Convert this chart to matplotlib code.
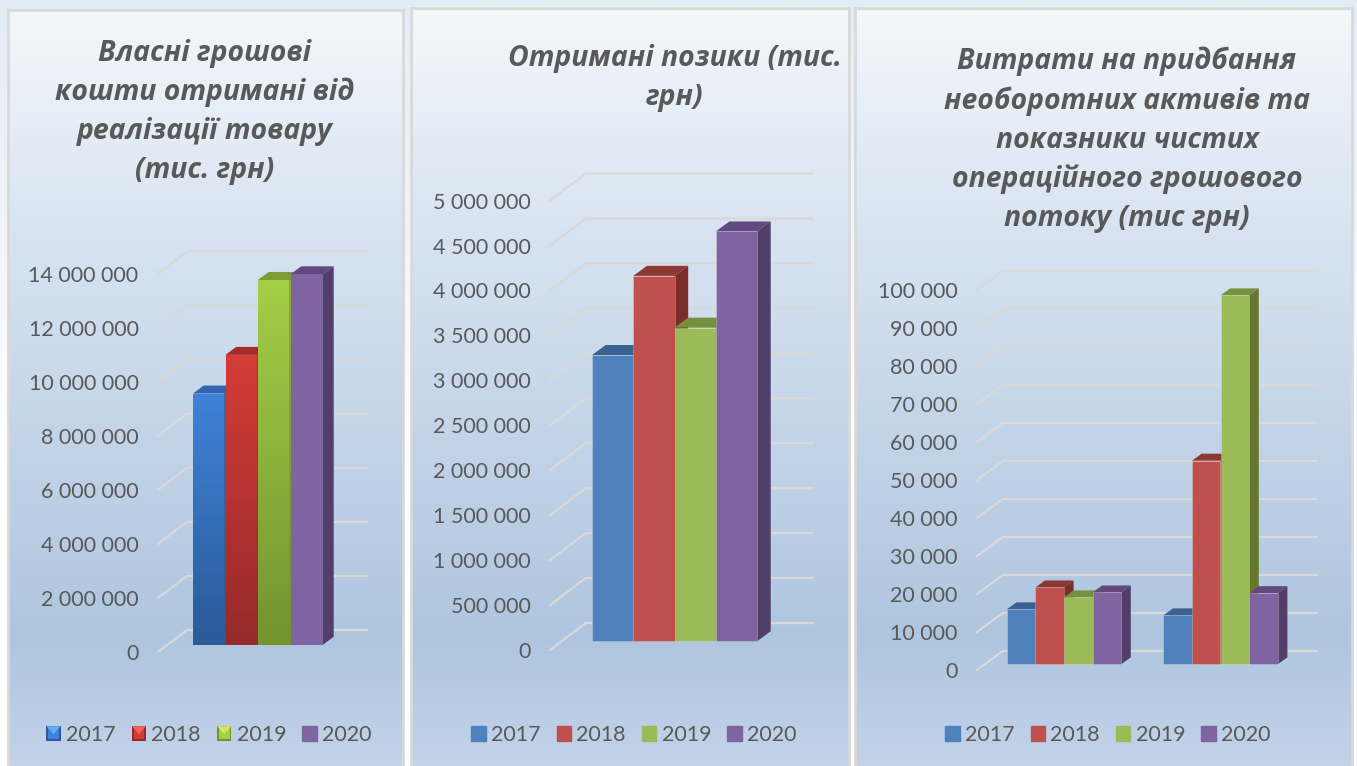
import numpy as np
import matplotlib
matplotlib.use("Agg")
import matplotlib.pyplot as plt
from matplotlib.colors import LinearSegmentedColormap
from matplotlib.legend_handler import HandlerBase
from matplotlib.patches import Patch, Polygon, Rectangle
from matplotlib.ticker import FuncFormatter

W, H = 1357, 766

# ---- data
years = ["2017", "2018", "2019", "2020"]

vlasni = [[9290000], [10720000], [13490000], [13700000]]
pozyky = [[3185000], [4066000], [3490000], [4560000]]
vytraty = [[14450, 12870], [20220, 53580], [17600, 97080], [18900, 18730]]

ticks_1 = [0, 2000000, 4000000, 6000000, 8000000, 10000000, 12000000, 14000000]
ticks_2 = [0, 500000, 1000000, 1500000, 2000000, 2500000, 3000000, 3500000, 4000000, 4500000, 5000000]
ticks_3 = [0, 10000, 20000, 30000, 40000, 50000, 60000, 70000, 80000, 90000, 100000]

title_1 = "Власні грошові\nкошти отримані від\nреалізації товару\n(тис. грн)"
title_2 = "Отримані позики (тис.\nгрн)"
title_3 = "Витрати на придбання\nнеоборотних активів та\nпоказники чистих\nопераційного грошового\nпотоку (тис грн)"

# ---- styles
front = ["#4F81BD", "#C0504D", "#9BBB59", "#8064A2"]
top_c = ["#3A6190", "#8E3835", "#75903F", "#62497F"]
side_c = ["#2F4F78", "#7B2D2B", "#66782F", "#513E69"]
# gradient of the glossy bars in the first chart (top, bottom); None = flat
gloss = [("#3F82D8", "#2A5A98"), ("#D33C37", "#962A2A"), ("#A3CE46", "#749430"), None]
top_gloss = ["#2F66AE", "#A52C2B", "#7E9C36", "#62497F"]
side_gloss = ["#2A5A98", "#8A2626", "#6A8A2A", "#513E69"]

text_c = "#595959"
grid_c = "#D9D9D9"
TITLE_FONT = ["Open Sans", "DejaVu Sans"]
LABEL_FONT = ["Lato", "Open Sans", "DejaVu Sans"]


def rect_px(x0, y0, x1, y1):
    return [x0 / W, 1 - y1 / H, (x1 - x0) / W, (y1 - y0) / H]


class HandlerBevel(HandlerBase):
    # petit carré biseauté de la légende du premier graphique
    def __init__(self, light, mid, dark):
        super().__init__()
        self.light, self.mid, self.dark = light, mid, dark

    def create_artists(self, legend, orig, xd, yd, w, h, fontsize, trans):
        base = Rectangle((-xd, -yd), w, h, fc=self.dark, ec="none", transform=trans)
        inner = Rectangle((-xd + w * 0.12, -yd + h * 0.12), w * 0.76, h * 0.76,
                          fc=self.mid, ec="none", transform=trans)
        tri = Polygon([(-xd, -yd + h), (-xd + w, -yd + h), (-xd + w / 2, -yd + h * 0.45)],
                      fc=self.light, ec="none", transform=trans)
        return [base, inner, tri]


def draw_panel(fig, box, title, title_xy, values, ticks, group_left, bar_w, geom, legend_xy, glossy=False):
    x0, y0, x1, y1 = box
    tip_x, back_x, right_x = geom["tip_x"], geom["back_x"], geom["right_x"]
    y_zero, y_max = geom["y_zero"], geom["y_max"]
    base_y, dep_x, dep_y = geom["base_y"], geom["dep_x"], geom["dep_y"]
    tick_top = ticks[-1]
    scale = (y_zero - y_max) / tick_top  # px par unité

    # fond dégradé du panneau
    bg = fig.add_axes(rect_px(x0, y0, x1, y1), zorder=1)
    cmap = LinearSegmentedColormap.from_list("fond", [(0, "#F3F7FB"), (0.30, "#D7E3F1"),
                                                      (0.82, "#AFC5DF"), (1, "#C4D4E9")])
    bg.imshow(np.linspace(0, 1, 256).reshape(-1, 1), aspect="auto", cmap=cmap, extent=(0, 1, 0, 1))
    bg.set_xticks([])
    bg.set_yticks([])
    for name, spine in bg.spines.items():
        spine.set_color("#D9D9D9")
        spine.set_linewidth(2)
    bg.spines["bottom"].set_visible(False)

    # plan du fond, grille et graduations
    wall = fig.add_axes(rect_px(tip_x, y_max, right_x, y_zero), zorder=2)
    wall.patch.set_alpha(0)
    wall.set_xlim(0, right_x - tip_x)
    wall.set_ylim(0, tick_top)
    depth_x = back_x - tip_x
    depth_y = geom["wall_dy"] / scale
    for t in ticks:
        wall.plot([0, depth_x, right_x - tip_x], [t, t + depth_y, t + depth_y],
                  color=grid_c, lw=1.6, clip_on=False, solid_joinstyle="miter")
    for s in wall.spines.values():
        s.set_visible(False)
    wall.set_xticks([])
    wall.set_yticks(ticks)
    wall.yaxis.set_major_formatter(FuncFormatter(lambda v, p: f"{int(v):,}".replace(",", " ")))
    wall.tick_params(axis="y", length=0, pad=geom["pad"], labelsize=15.5, labelcolor=text_c)
    for lab in wall.get_yticklabels():
        lab.set_fontfamily(LABEL_FONT)

    # barres
    ax = fig.add_axes(rect_px(tip_x, y_max, right_x, base_y), zorder=3)
    ax.patch.set_alpha(0)
    ax.set_xlim(tip_x, right_x)
    ax.set_ylim(0, (base_y - y_max) / scale)
    ax.axis("off")
    dy = dep_y / scale
    z = 3
    for g, left in enumerate(group_left):
        for j in range(len(years)):
            v = values[j][g]
            xb = left + j * bar_w
            if glossy:
                tc, sc = top_gloss[j], side_gloss[j]
            else:
                tc, sc = top_c[j], side_c[j]
            ax.fill([xb, xb + dep_x, xb + bar_w + dep_x, xb + bar_w],
                    [v, v + dy, v + dy, v], color=tc, lw=0, zorder=z, clip_on=False)
            ax.fill([xb + bar_w, xb + bar_w + dep_x, xb + bar_w + dep_x, xb + bar_w],
                    [0, dy, v + dy, v], color=sc, lw=0, zorder=z, clip_on=False)
            bar = ax.bar(xb, v, width=bar_w, align="edge", color=front[j],
                         edgecolor="#FFFFFF40" if not glossy else "none", lw=0.6, zorder=z + 1)[0]
            bar.set_clip_on(False)
            if glossy and gloss[j] is not None:
                cm = LinearSegmentedColormap.from_list("b", [gloss[j][1], gloss[j][0]])
                im = ax.imshow(np.linspace(1, 0, 64).reshape(-1, 1), aspect="auto", cmap=cm,
                               extent=(xb, xb + bar_w, 0, v), zorder=z + 2, clip_on=True)
                im.set_clip_path(bar)
                ax.plot([xb + bar_w - 0.5] * 2, [0, v], color=gloss[j][1], lw=1.2, zorder=z + 3, alpha=0.7)
            z += 4
    ax.set_xlim(tip_x, right_x)
    ax.set_ylim(0, (base_y - y_max) / scale)

    # légende
    handles = [Patch(color=c) for c in front]
    handler_map = {}
    if glossy:
        lights = ["#63AEF0", "#F06560", "#CFEA60"]
        for h, g, l in zip(handles[:3], gloss[:3], lights):
            handler_map[h] = HandlerBevel(l, g[0], g[1])
    leg = ax.legend(handles, years, ncols=4, frameon=False, loc="center",
                    bbox_to_anchor=(legend_xy[0] / W, 1 - legend_xy[1] / H), bbox_transform=fig.transFigure,
                    labelcolor=text_c, handlelength=0.66, handleheight=0.66,
                    handletextpad=0.25, columnspacing=0.75, borderpad=0, handler_map=handler_map,
                    prop={"family": LABEL_FONT, "size": 15.5})
    leg.set_zorder(50)

    # titre
    t = fig.text(title_xy[0] / W, 1 - title_xy[1] / H, title, ha="center", va="center",
                 color=text_c, fontsize=20.4, fontweight="bold", fontstyle="italic",
                 family=TITLE_FONT, linespacing=1.45, zorder=60)
    return t


fig = plt.figure(figsize=(W / 100, H / 100), dpi=100)

page = fig.add_axes([0, 0, 1, 1], zorder=0)
page_cm = LinearSegmentedColormap.from_list("page", [(0, "#E4ECF6"), (0.25, "#EEF3F9"), (0.6, "#FFFFFF"), (1, "#FFFFFF")])
page.imshow(np.linspace(0, 1, 256).reshape(-1, 1), aspect="auto", cmap=page_cm)
page.axis("off")

draw_panel(fig, (8, 10, 403, 775), title_1, (205, 112), vlasni, ticks_1,
           group_left=[193], bar_w=32.5,
           geom=dict(tip_x=158, back_x=187, right_x=367, y_zero=652, y_max=273.5, base_y=644.7,
                     dep_x=10.7, dep_y=8, wall_dy=22, pad=14),
           legend_xy=(209, 735), glossy=True)

draw_panel(fig, (411, 8, 849, 775), title_2, (675, 78), pozyky, ticks_2,
           group_left=[592], bar_w=41.25,
           geom=dict(tip_x=550, back_x=585.7, right_x=812.7, y_zero=650, y_max=200.6, base_y=641.3,
                     dep_x=13.7, dep_y=10, wall_dy=27, pad=14),
           legend_xy=(634, 735))

draw_panel(fig, (855, 8, 1352, 775), title_3, (1127, 140), vytraty, ticks_3,
           group_left=[1006.7, 1163.3], bar_w=28.6,
           geom=dict(tip_x=977, back_x=1002.7, right_x=1316.7, y_zero=670, y_max=290, base_y=664.3,
                     dep_x=9.7, dep_y=7, wall_dy=19, pad=14),
           legend_xy=(1108, 735))

fig.savefig("out.png", dpi=100)
